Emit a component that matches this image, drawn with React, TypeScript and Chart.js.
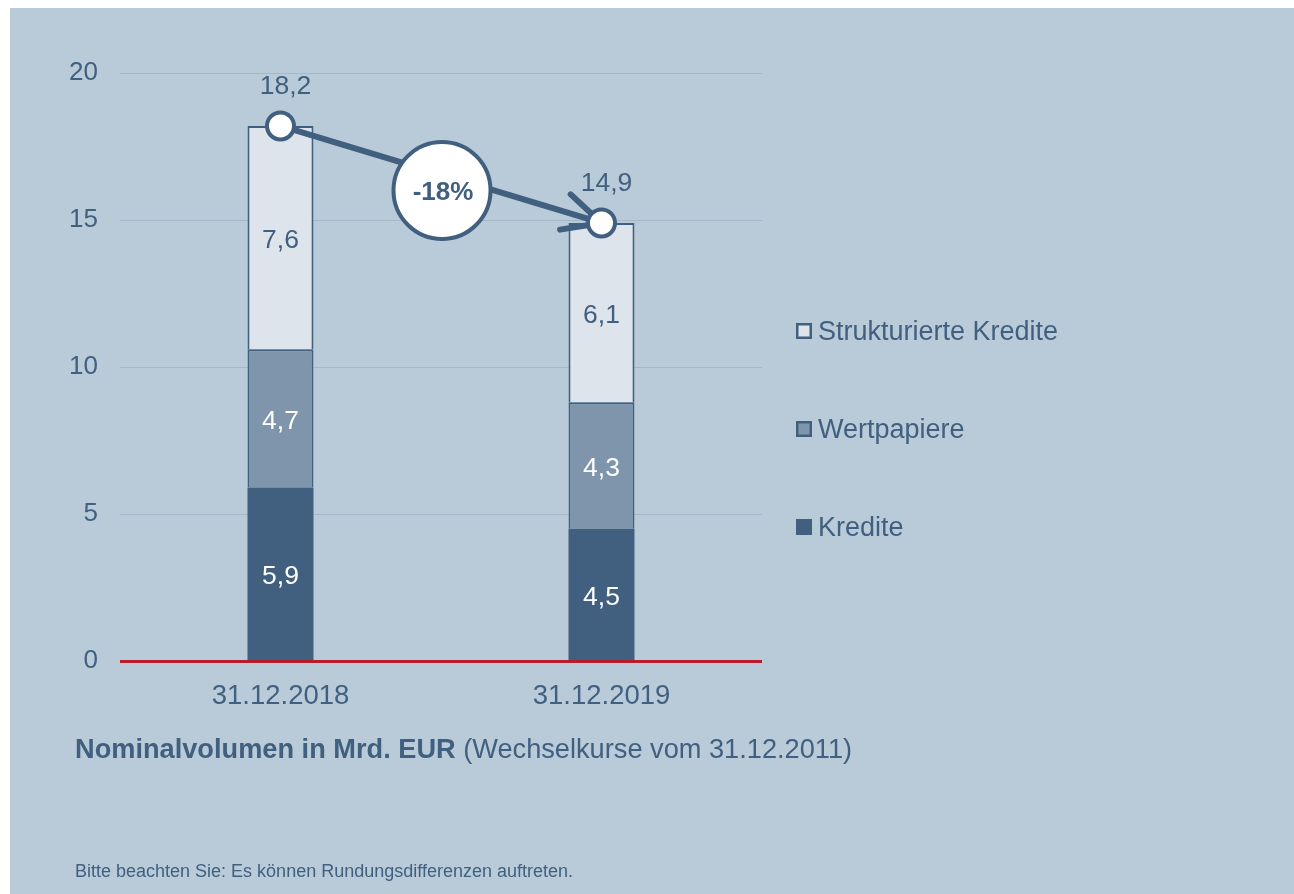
import React, { useEffect, useRef } from "react";
import { Chart, registerables } from "chart.js";

Chart.register(...registerables);

const categories = ["31.12.2018", "31.12.2019"];
const kredite = [5.9, 4.5];
const wertpapiere = [4.7, 4.3];
const strukturierte = [7.6, 6.1];
const totals = [18.2, 14.9];
const seriesNames = ["Kredite", "Wertpapiere", "Strukturierte Kredite"];
const yMin = 0;
const yMax = 20;
const yStep = 5;

const FONT = "'Liberation Sans', Arial, Helvetica, sans-serif";
const BG = "#b9cbd9";
const DARK = "#41607f";
const MID = "#7e95ab";
const LIGHT = "#dde4ec";
const GRID = "#a5b8c9";
const RED = "#b41e2d";
const FS = 26;

const fmt = (v: number) => v.toFixed(1).replace(".", ",");

const W = 1284;
const H = 886;

const overlayPlugin = {
  id: "overlay",
  beforeDatasetDraw(chart: any, args: any) {
    const ds = chart.data.datasets[args.index];
    if (ds.type !== "line") return;
    const meta = chart.getDatasetMeta(args.index);
    const p1 = meta.data[0];
    const p2 = meta.data[1];
    const ang = Math.atan2(p1.y - p2.y, p1.x - p2.x);
    const ctx = chart.ctx;
    ctx.save();
    ctx.strokeStyle = DARK;
    ctx.lineWidth = 6;
    ctx.lineCap = "round";
    const len = 42;
    const spread = (26 * Math.PI) / 180;
    [ang + spread, ang - spread].forEach((a) => {
      ctx.beginPath();
      ctx.moveTo(p2.x, p2.y);
      ctx.lineTo(p2.x + Math.cos(a) * len, p2.y + Math.sin(a) * len);
      ctx.stroke();
    });
    ctx.restore();
  },
  afterDatasetsDraw(chart: any) {
    const ctx = chart.ctx;
    const area = chart.chartArea;
    const yScale = chart.scales.y;
    ctx.save();
    // red zero baseline
    const y0 = yScale.getPixelForValue(0);
    ctx.strokeStyle = RED;
    ctx.lineWidth = 3;
    ctx.beginPath();
    ctx.moveTo(area.left, y0 + 0.5);
    ctx.lineTo(area.right, y0 + 0.5);
    ctx.stroke();

    // segment labels
    ctx.font = `${FS + 0.5}px ${FONT}`;
    ctx.textAlign = "center";
    ctx.textBaseline = "middle";
    chart.data.datasets.forEach((ds: any, i: number) => {
      if (ds.type === "line") return;
      const meta = chart.getDatasetMeta(i);
      meta.data.forEach((el: any, j: number) => {
        const v = ds.data[j];
        ctx.fillStyle = ds.labelColor;
        ctx.fillText(fmt(v), el.x, (el.y + el.base) / 2 + 3);
      });
    });

    // totals + middle circle
    const li = chart.data.datasets.findIndex((d: any) => d.type === "line");
    const lmeta = chart.getDatasetMeta(li);
    const pts = lmeta.data;
    ctx.fillStyle = DARK;
    pts.forEach((p: any, j: number) => {
      ctx.fillText(fmt(totals[j]), p.x + 5, p.y - 39);
    });
    const cx = (pts[0].x + pts[1].x) / 2 + 1;
    const cy = (pts[0].y + pts[1].y) / 2 + 16;
    ctx.beginPath();
    ctx.arc(cx, cy, 48.5, 0, Math.PI * 2);
    ctx.fillStyle = "#ffffff";
    ctx.fill();
    ctx.lineWidth = 4;
    ctx.strokeStyle = DARK;
    ctx.stroke();
    const pct = Math.round((totals[1] / totals[0] - 1) * 100);
    ctx.fillStyle = DARK;
    ctx.font = `bold ${FS}px ${FONT}`;
    ctx.fillText(`${pct}%`, cx + 1, cy + 2);

    // legend (reverse order)
    const barSets = chart.data.datasets.filter((d: any) => d.type !== "line");
    const lx = area.right + 34;
    const ly0 = area.top + 258;
    const gap = 98;
    ctx.font = `27px ${FONT}`;
    ctx.textAlign = "left";
    barSets
      .slice()
      .reverse()
      .forEach((ds: any, k: number) => {
        const yc = ly0 + k * gap;
        ctx.fillStyle = DARK;
        ctx.fillRect(lx, yc - 8, 16, 16);
        ctx.fillStyle = ds.backgroundColor;
        ctx.fillRect(lx + 2.5, yc - 5.5, 11, 11);
        ctx.fillStyle = DARK;
        ctx.fillText(ds.label, lx + 22, yc + 2);
      });
    ctx.restore();
  },
};

export default function App() {
  const ref = useRef<HTMLCanvasElement | null>(null);
  useEffect(() => {
    if (!ref.current) return;
    const chart = new Chart(ref.current, {
      type: "bar",
      data: {
        labels: categories,
        datasets: [
          {
            type: "line",
            label: "Summe",
            data: totals,
            stack: "line",
            order: -1,
            borderColor: DARK,
            borderWidth: 6,
            pointRadius: 13.5,
            pointBackgroundColor: "#ffffff",
            pointBorderColor: DARK,
            pointBorderWidth: 4,
            tension: 0,
          } as any,
          {
            type: "bar",
            label: seriesNames[0],
            data: kredite,
            stack: "bars",
            backgroundColor: DARK,
            borderWidth: 0,
            labelColor: "#ffffff",
          } as any,
          {
            type: "bar",
            label: seriesNames[1],
            data: wertpapiere,
            stack: "bars",
            backgroundColor: MID,
            borderColor: DARK,
            borderWidth: 2,
            labelColor: "#ffffff",
          } as any,
          {
            type: "bar",
            label: seriesNames[2],
            data: strukturierte,
            stack: "bars",
            backgroundColor: LIGHT,
            borderColor: DARK,
            borderWidth: 2,
            labelColor: DARK,
          } as any,
        ],
      },
      options: {
        responsive: false,
        animation: false,
        events: [],
        layout: { padding: { left: 0, top: 65, right: 532, bottom: 0 } },
        datasets: { bar: { barPercentage: 0.2056, categoryPercentage: 1 } },
        plugins: {
          legend: { display: false },
          tooltip: { enabled: false },
          title: { display: false },
        },
        scales: {
          x: {
            stacked: true,
            grid: { display: false },
            border: { display: false },
            ticks: {
              color: DARK,
              font: { family: FONT, size: 27.5 },
              padding: 11,
            },
            afterFit: (s: any) => {
              s.height = H - 653;
            },
          },
          y: {
            stacked: true,
            min: yMin,
            max: yMax,
            grid: { color: GRID, lineWidth: 1, drawTicks: false },
            border: { display: false },
            ticks: {
              stepSize: yStep,
              color: DARK,
              font: { family: FONT, size: FS },
              padding: 22,
            },
            afterFit: (s: any) => {
              s.width = 110;
            },
          },
        },
      },
      plugins: [overlayPlugin],
    });
    return () => chart.destroy();
  }, []);

  return (
    <div
      style={{
        position: "fixed",
        left: 10,
        top: 8,
        width: W,
        height: H,
        background: BG,
        overflow: "hidden",
        fontFamily: FONT,
        color: DARK,
      }}
    >
      <canvas
        ref={ref}
        width={W}
        height={H}
        style={{ position: "absolute", left: 0, top: 0, width: W, height: H }}
      />
      <div
        style={{
          position: "absolute",
          left: 65,
          top: 725,
          fontSize: 27.2,
          whiteSpace: "nowrap",
        }}
      >
        <b>Nominalvolumen in Mrd. EUR</b> (Wechselkurse vom 31.12.2011)
      </div>
      <div
        style={{
          position: "absolute",
          left: 65,
          top: 853,
          fontSize: 18,
          whiteSpace: "nowrap",
        }}
      >
        Bitte beachten Sie: Es können Rundungsdifferenzen auftreten.
      </div>
    </div>
  );
}
